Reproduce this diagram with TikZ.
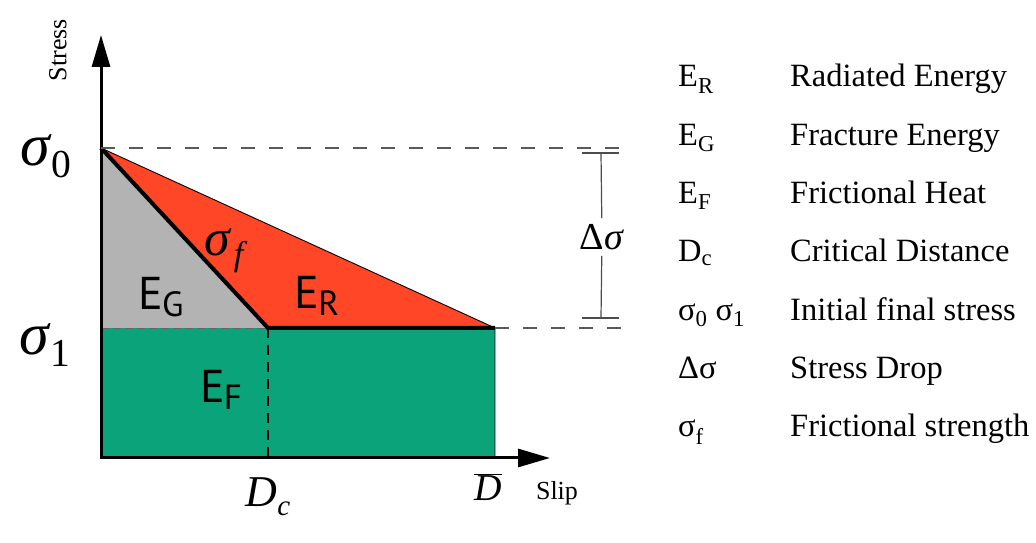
\documentclass[tikz,border=0pt]{standalone}
\usepackage{fontspec}
\setmainfont{Liberation Serif}
\newfontfamily\areafont{PT Sans}
\usetikzlibrary{arrows.meta}
\definecolor{fracgray}{HTML}{B3B3B3}
\definecolor{radred}{HTML}{FF4626}
\definecolor{heatgreen}{HTML}{0AA37A}
\tikzset{
  axis/.style={line width=3pt,line cap=rect,-{Triangle[length=32pt,width=18pt]}},
  guide/.style={black!65,line width=1.3pt,dash pattern=on 14pt off 14pt},
  bracket/.style={black!70,line width=1.2pt},
  arealabel/.style={font=\areafont\fontsize{46}{46}\selectfont,inner sep=0pt},
  legend/.style={anchor=base west,font=\fontsize{32.5}{34}\selectfont,inner sep=0pt},
}
\newcommand{\areasub}[2]{#1\kern-1pt\raisebox{-7pt}{\fontsize{35}{35}\selectfont #2}}
\newcommand{\bigsub}[1]{\raisebox{-0.2em}{\scalebox{0.66}{#1}}}
\begin{document}
\begin{tikzpicture}[x=1pt,y=1pt]
  \useasboundingbox (0,0) rectangle (1036,543);
  \coordinate (O) at (101,85);
  \coordinate (S0) at (101,395);
  \coordinate (S1) at (101,215);
  \coordinate (C) at (268,215);
  \coordinate (Cbase) at (268,85);
  \coordinate (Dbar) at (495,215);
  \coordinate (Dbase) at (495,85);
  \coordinate (ytip) at (101,508);
  \coordinate (xtip) at (550,85);
  \coordinate (guideA) at (628,395);
  \coordinate (guideB) at (628,215);
  \coordinate (dtop) at (601,390);
  \coordinate (dbot) at (601,225);
  % energy areas
  \fill[fracgray] (S0) -- (C) -- (S1) -- cycle;
  \fill[radred] (S0) -- (Dbar) -- (C) -- cycle;
  \fill[heatgreen] (S1) rectangle (Dbase);
  \draw[black!60,line width=0.6pt,dash pattern=on 8pt off 4pt] (S1) -- (C);
  \draw[line width=0.9pt] (S0) -- (Dbar) -- (Dbase);
  \draw[line width=2.5pt,dash pattern=on 10pt off 7pt] (C) -- (Cbase);
  \draw[line width=4pt,line join=miter] (S0) -- (C) -- (Dbar);
  % axes
  \draw[axis] (O) -- (ytip);
  \draw[axis] (O) -- (xtip);
  % guides and stress drop
  \draw[guide] (S0) -- (guideA);
  \draw[guide] (Dbar) -- (guideB);
  \node[font=\fontsize{38}{38}\selectfont,inner sep=6pt] (dslab) at (602,306) {Δ\textit{σ}};
  \draw[bracket] (dtop) -- (dslab);
  \draw[bracket] (dslab) -- (dbot);
  \draw[bracket] ([xshift=-19pt]dtop) -- ([xshift=18pt]dtop);
  \draw[bracket] ([xshift=-19pt]dbot) -- ([xshift=18pt]dbot);
  % axis labels
  \node[rotate=90,font=\fontsize{26}{26}\selectfont] (ylab) at (58,493) {Stress};
  \node[font=\fontsize{26}{26}\selectfont] (xlab) at (557,50) {Slip};
  \node[font=\fontsize{60}{60}\selectfont] (s0lab) at (46,387) {\textit{σ}\bigsub{0}};
  \node[font=\fontsize{60}{60}\selectfont] (s1lab) at (45,198) {\textit{σ}\bigsub{1}};
  \node[font=\fontsize{44}{44}\selectfont] (dclab) at (268,46) {\textit{D}\bigsub{\textit{c}}};
  \node[font=\fontsize{38}{38}\selectfont] (dbarlab) at (488,56) {$\overline{\hbox{\textit{D}}}$};
  \node[font=\fontsize{52}{52}\selectfont] (sflab) at (226,292) {\textit{σ}\kern2pt\bigsub{\textit{f}}};
  % area labels
  \node[arealabel] (eg) at (161,246) {\areasub{E}{G}};
  \node[arealabel] (er) at (317,247) {\areasub{E}{R}};
  \node[arealabel] (ef) at (221,153) {\areasub{E}{F}};
  % legend
  \foreach \sym/\txt [count=\i] in {E\textsubscript{R}/Radiated Energy,
      E\textsubscript{G}/Fracture Energy, E\textsubscript{F}/Frictional Heat,
      D\textsubscript{c}/Critical Distance,
      σ\textsubscript{0} σ\textsubscript{1}/Initial final stress,
      Δσ/Stress Drop, σ\textsubscript{f}/Frictional strength} {
    \pgfmathsetmacro\yb{543-87-58.33*(\i-1)}
    \node[legend] (sym\i) at (678,\yb) {\sym};
    \node[legend] (txt\i) at (790,\yb) {\txt};
  }
\end{tikzpicture}
\end{document}
